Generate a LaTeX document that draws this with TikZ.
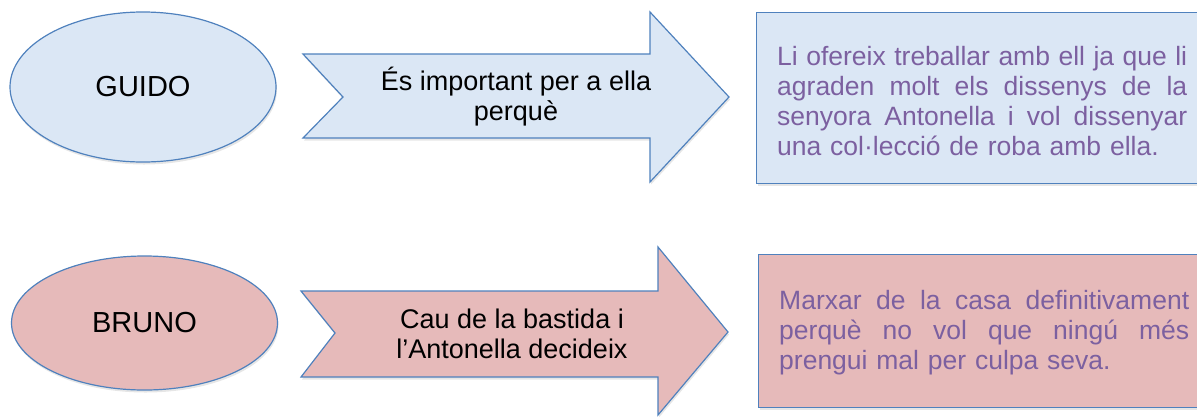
\documentclass[tikz,border=0pt]{standalone}
\usepackage{fontspec}
\setmainfont{Liberation Sans}
\usetikzlibrary{shapes.geometric,shadows}

\definecolor{shapeline}{RGB}{79,129,189}
\definecolor{bluefill}{RGB}{219,231,245}
\definecolor{pinkfill}{RGB}{230,186,186}
\definecolor{textpurple}{RGB}{124,96,160}

% one justified line of the result boxes
\newcommand{\fullline}[1]{\leavevmode\hbox to 410pt{\spaceskip=0.25em plus 1fil\relax #1}}

\tikzset{
  outlined/.style={draw=shapeline, line width=1.2pt,
    drop shadow={opacity=0.2, shadow xshift=1pt, shadow yshift=-2.5pt}},
  bigtext/.style={font=\fontsize{26.5}{30}\selectfont},
  person/.style={outlined, ellipse, minimum width=266pt, minimum height=150pt, inner sep=0pt,
    font=\fontsize{29}{33}\selectfont},
  reason/.style={font=\fontsize{27}{30}\selectfont, align=center},
  result/.style={outlined, rectangle, minimum width=460pt, inner sep=0pt},
  resulttext/.style={bigtext, text=textpurple, align=left, text width=410pt, inner sep=0pt, anchor=west}
}

\begin{document}
\begin{tikzpicture}[x=1pt, y=-1pt]
    \useasboundingbox (0,0) rectangle (1197,416);

    % first row: Guido
    \node[person, fill=bluefill] (guido) at (143,87) {GUIDO};
    \filldraw[outlined, fill=bluefill] (303,54) -- (650,54) -- (650,12) -- (729,97)
        -- (650,182) -- (650,138) -- (303,138) -- (343,97) -- cycle;
    \node[reason] (why1) at (516,97) {És important per a ella\\perquè};
    \node[result, fill=bluefill, minimum height=171pt, anchor=north west] (res1) at (756,12) {};
    \node[resulttext] (txt1) at ([xshift=21pt, yshift=-3pt]res1.west) {%
        \fullline{Li ofereix treballar amb ell ja que li}\\
        \fullline{agraden molt els dissenys de la}\\
        \fullline{senyora Antonella i vol dissenyar}\\
        una col·lecció de roba amb ella.};

    % second row: Bruno
    \node[person, fill=pinkfill, minimum height=134pt] (bruno) at (144.5,323) {BRUNO};
    \filldraw[outlined, fill=pinkfill] (301,291) -- (658,291) -- (658,247) -- (728,332)
        -- (658,415) -- (658,377) -- (301,377) -- (335,333) -- cycle;
    \node[reason] (why2) at (512,334) {Cau de la bastida i\\l’Antonella decideix};
    \node[result, fill=pinkfill, minimum height=153pt, anchor=north west] (res2) at (758,254) {};
    \node[resulttext] (txt2) at ([xshift=21pt, yshift=-1.5pt]res2.west) {%
        \fullline{Marxar de la casa definitivament}\\
        \fullline{perquè no vol que ningú més}\\
        prengui mal per culpa seva.};
\end{tikzpicture}
\end{document}
